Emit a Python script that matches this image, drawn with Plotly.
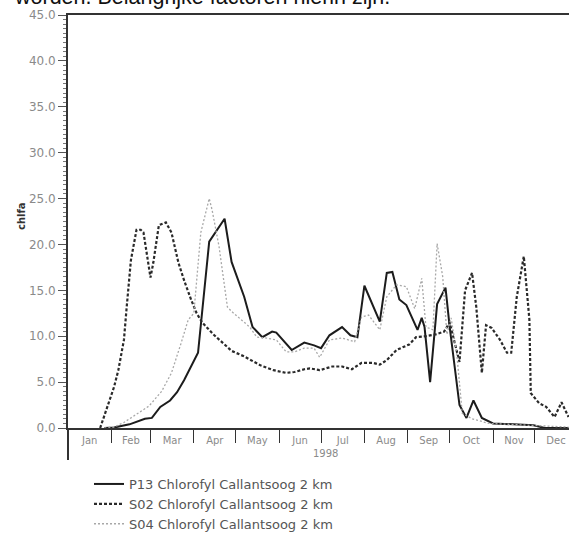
import plotly.graph_objects as go

# ---- data ----
p13_dates = ["1998-01-27","1998-02-03","1998-02-14","1998-02-25","1998-03-02","1998-03-08","1998-03-15",
             "1998-03-20","1998-03-25","1998-04-02","1998-04-04","1998-04-12","1998-04-23","1998-04-28",
             "1998-05-07","1998-05-13","1998-05-20","1998-05-27","1998-05-30","1998-06-10","1998-06-19",
             "1998-06-26","1998-07-01","1998-07-07","1998-07-16","1998-07-22","1998-07-27","1998-08-01",
             "1998-08-12","1998-08-17","1998-08-21","1998-08-26","1998-08-31","1998-09-08","1998-09-11",
             "1998-09-13","1998-09-17","1998-09-22","1998-09-28","1998-10-01","1998-10-05","1998-10-08",
             "1998-10-13","1998-10-18","1998-10-24","1998-11-01","1998-11-30","1998-12-08","1998-12-25"]
p13_values = [0.0,0.05,0.4,1.0,1.1,2.3,3.0,3.9,5.2,7.6,8.2,20.3,22.8,18.1,14.3,11.0,9.9,10.5,10.4,8.5,9.3,
              9.0,8.7,10.1,11.0,10.1,9.9,15.5,11.6,16.9,17.0,14.0,13.4,10.7,12.0,11.0,5.0,13.5,15.3,11.0,
              6.3,2.5,1.1,3.0,1.1,0.5,0.3,0.0,0.0]

s02_dates = ["1998-01-24","1998-01-29","1998-02-03","1998-02-06","1998-02-10","1998-02-12","1998-02-15",
             "1998-02-19","1998-02-22","1998-02-24","1998-02-28","1998-03-01","1998-03-03","1998-03-07",
             "1998-03-12","1998-03-16","1998-03-21","1998-03-25","1998-03-30","1998-04-03","1998-04-07",
             "1998-04-15","1998-04-28","1998-05-07","1998-05-19","1998-05-28","1998-06-06","1998-06-12",
             "1998-06-19","1998-06-23","1998-06-30","1998-07-09","1998-07-16","1998-07-23","1998-07-30",
             "1998-08-07","1998-08-12","1998-08-17","1998-08-24","1998-09-02","1998-09-07","1998-09-14",
             "1998-09-21","1998-09-27","1998-10-01","1998-10-08","1998-10-12","1998-10-17","1998-10-20",
             "1998-10-24","1998-10-27","1998-10-31","1998-11-06","1998-11-11","1998-11-14","1998-11-18",
             "1998-11-23","1998-11-27","1998-11-28","1998-12-04","1998-12-09","1998-12-15","1998-12-20",
             "1998-12-25"]
s02_values = [0.0,2.3,4.5,6.3,9.6,13.2,18.3,21.6,21.6,21.3,17.2,16.4,18.0,22.1,22.4,21.3,18.0,16.1,14.0,
              12.5,11.5,10.2,8.4,7.8,6.8,6.3,6.0,6.1,6.4,6.5,6.3,6.7,6.7,6.4,7.1,7.1,6.9,7.4,8.5,9.1,9.9,
              10.0,10.2,10.5,11.5,7.2,15.0,16.9,13.2,6.0,11.2,10.9,9.6,8.2,8.2,14.3,18.7,11.8,3.8,2.7,2.3,
              1.2,2.8,1.2]

s04_dates = ["1998-01-27","1998-02-03","1998-02-10","1998-02-19","1998-02-28","1998-03-09","1998-03-16",
             "1998-03-23","1998-03-28","1998-04-01","1998-04-03","1998-04-06","1998-04-12","1998-04-14",
             "1998-04-19","1998-04-25","1998-04-28","1998-05-05","1998-05-11","1998-05-16","1998-05-23",
             "1998-05-30","1998-06-06","1998-06-12","1998-06-19","1998-06-26","1998-06-30","1998-07-07",
             "1998-07-16","1998-07-25","1998-07-30","1998-08-04","1998-08-12","1998-08-17","1998-08-24",
             "1998-08-31","1998-09-06","1998-09-11","1998-09-14","1998-09-19","1998-09-22","1998-09-26",
             "1998-09-29","1998-10-02","1998-10-06","1998-10-10","1998-10-17","1998-10-29","1998-11-27",
             "1998-12-25"]
s04_values = [0.0,0.1,0.6,1.5,2.4,4.0,6.0,9.3,11.8,12.5,16.1,21.3,25.0,23.8,19.8,13.2,12.7,11.8,11.0,9.9,
              9.8,9.6,8.3,8.3,8.7,8.7,7.7,9.6,9.8,9.4,12.1,12.3,10.7,14.3,15.6,15.4,13.0,16.3,11.0,10.7,
              20.1,16.5,10.2,12.0,8.2,1.6,1.0,0.5,0.3,0.1]

series_names = ["P13 Chlorofyl Callantsoog 2 km",
                "S02 Chlorofyl Callantsoog 2 km",
                "S04 Chlorofyl Callantsoog 2 km"]
y_title = "chlfa"
x_title = "1998"
top_text = "worden. Belangrijke factoren hierin zijn."

# ---- figure ----
W, H = 569, 534
L, R, T, B = 68, 0, 15, 106
pw, ph = W - L - R, H - T - B

def px_x(p):
    return (p - L) / pw

def px_y(p):
    return (H - B - p) / ph

fig = go.Figure()
fig.add_trace(go.Scatter(x=p13_dates, y=p13_values, mode="lines", name=series_names[0],
                         line=dict(color="#1c1c1c", width=2)))
fig.add_trace(go.Scatter(x=s02_dates, y=s02_values, mode="lines", name=series_names[1],
                         line=dict(color="#2a2a2a", width=2.2, dash="3px,2px")))
fig.add_trace(go.Scatter(x=s04_dates, y=s04_values, mode="lines", name=series_names[2],
                         line=dict(color="#a8a8a8", width=1.3, dash="2px,2px")))

tick_font = dict(family="DejaVu Sans", size=10, color="#8a8a8a")

fig.update_layout(
    width=W, height=H,
    margin=dict(l=L, r=R, t=T, b=B, pad=0, autoexpand=False),
    paper_bgcolor="white", plot_bgcolor="white",
    showlegend=True,
    legend=dict(xref="container", yref="container", x=89 / W, y=1 - 469 / H,
                xanchor="left", yanchor="top",
                font=dict(family="DejaVu Sans", size=13, color="#555555"),
                bgcolor="rgba(0,0,0,0)", borderwidth=0, tracegroupgap=0),
    xaxis=dict(
        type="date", range=["1998-01-01", "1998-12-25 08:00"], automargin=False,
        showgrid=False, zeroline=False,
        showline=True, linecolor="#333333", linewidth=2, mirror=True,
        ticks="outside", ticklen=13, tickwidth=1, tickcolor="#333333",
        dtick="M1", tick0="1998-01-01", tickformat="%b", ticklabelmode="period",
        ticklabelstandoff=-11,
        tickfont=tick_font,
    ),
    yaxis=dict(
        range=[0, 45], showgrid=False, zeroline=False, automargin=False,
        showline=True, linecolor="#333333", linewidth=2,
        ticks="outside", ticklen=8, tickwidth=1, tickcolor="#555555",
        dtick=5, tick0=0, tickformat=".1f",
        tickfont=dict(family="DejaVu Sans", size=12, color="#8a8a8a"),
        minor=dict(dtick=0.5, ticks="outside", ticklen=3, tickcolor="#777777", tickwidth=1),
    ),
    annotations=[
        dict(text="<b>" + y_title + "</b>", xref="paper", yref="paper", x=px_x(21), y=px_y(216),
             showarrow=False, textangle=-90, font=dict(family="DejaVu Sans", size=10, color="#333333"),
             xanchor="center", yanchor="middle"),
        dict(text=x_title, xref="paper", yref="paper", x=px_x(325), y=px_y(453),
             showarrow=False, font=dict(family="DejaVu Sans", size=10, color="#8a8a8a"),
             xanchor="center", yanchor="middle"),
        dict(text=top_text, xref="paper", yref="paper", x=px_x(12), y=px_y(11),
             showarrow=False, font=dict(family="Liberation Sans", size=21.5, color="#111111"),
             xanchor="left", yanchor="bottom"),
    ],
    shapes=[
        dict(type="line", xref="paper", yref="paper", x0=0, x1=0, y0=0, y1=px_y(460),
             line=dict(color="#333333", width=2)),
    ],
)

fig.write_html(
    "out.html",
    config={"displayModeBar": False, "staticPlot": True},
    post_script="document.body.style.margin='0';document.documentElement.style.overflow='hidden';",
)
